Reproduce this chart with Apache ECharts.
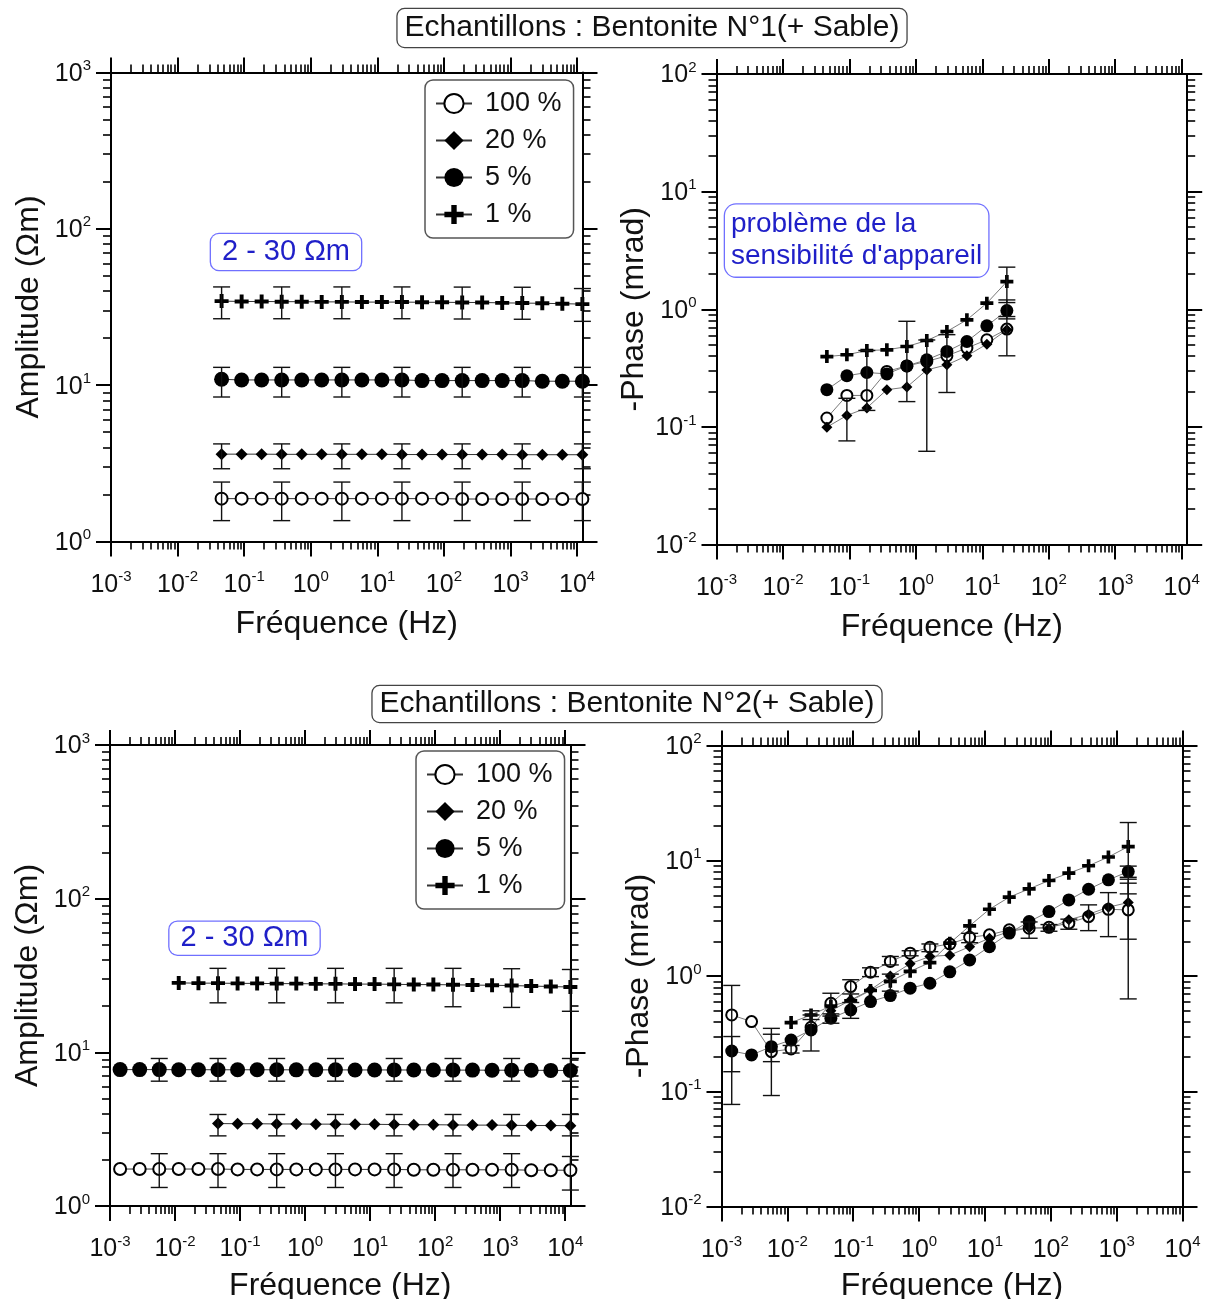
<!DOCTYPE html>
<html><head><meta charset="utf-8">
<script src="https://cdn.jsdelivr.net/npm/echarts@6/dist/echarts.min.js"></script>
<style>html,body{margin:0;padding:0;background:#fff}#c{width:1209px;height:1299px}</style>
</head><body><div id="c"></div>
<script>
// ---------- DATA ----------
const FREQ = [0.00143, 0.00286, 0.00572, 0.0114, 0.0229, 0.0458, 0.0916, 0.183, 0.366, 0.732, 1.46, 2.93, 5.86, 11.7, 23.4, 46.9, 93.8, 188, 375, 750, 1500, 3000, 6000, 12000];
const SERIES_NAMES = ['100 %', '20 %', '5 %', '1 %'];

// Bentonite N°1 - amplitude (Ωm)
const tlAmp100 = [null,null,null,null,null, 1.88,1.88,1.88,1.88,1.88,1.88,1.88,1.88,1.88,1.88,1.88,1.88,1.87,1.87,1.87,1.87,1.87,1.87,1.87];
const tlAmp20  = [null,null,null,null,null, 3.62,3.62,3.62,3.61,3.61,3.61,3.61,3.61,3.61,3.60,3.60,3.60,3.60,3.60,3.60,3.59,3.59,3.59,3.59];
const tlAmp5   = [null,null,null,null,null, 10.9,10.8,10.8,10.8,10.8,10.8,10.8,10.8,10.8,10.8,10.7,10.7,10.7,10.7,10.7,10.7,10.6,10.6,10.6];
const tlAmp1   = [null,null,null,null,null, 34.5,34.3,34.3,34.2,34.2,34.1,34.1,34.0,34.0,34.0,33.9,33.9,33.8,33.8,33.6,33.5,33.4,33.2,33.0];
const tlErrIdx = [5, 8, 11, 14, 17, 20, 23];
const tlErr100Lo = [1.36,1.36,1.36,1.36,1.36,1.36,1.36];
const tlErr100Hi = [2.40,2.40,2.40,2.40,2.40,2.40,2.40];
const tlErr20Lo = [2.92,2.92,2.92,2.92,2.92,2.92,2.92];
const tlErr20Hi = [4.21,4.21,4.21,4.21,4.21,4.21,4.21];
const tlErr5Lo = [8.4,8.4,8.4,8.4,8.4,8.4,8.4];
const tlErr5Hi = [13.0,13.0,13.0,13.0,13.0,13.0,13.0];
const tlErr1Lo = [26.6,26.6,26.6,26.6,26.5,26.4,25.6];
const tlErr1Hi = [42.5,42.5,42.5,42.5,42.4,42.3,41.5];

// Bentonite N°1 - phase (mrad)
const trPh100 = [null,null,null,null,null, 0.119,0.185,0.185,0.296,0.330,0.360,0.402,0.468,0.550,0.678];
const trPh20  = [null,null,null,null,null, 0.0995,0.125,0.145,0.207,0.218,0.305,0.337,0.402,0.505,0.668];
const trPh5   = [null,null,null,null,null, 0.207,0.272,0.290,0.282,0.330,0.372,0.438,0.532,0.723,0.975];
const trPh1   = [null,null,null,null,null, 0.396,0.410,0.446,0.452,0.482,0.542,0.647,0.813,1.127,1.718];
const trErrIdx = [6, 7, 9, 10, 11, 14, 14, 14];
const trErrLo = [0.076, 0.138, 0.164, 0.062, 0.196, 1.14, 0.828, 0.402];
const trErrHi = [0.175, 0.446, 0.79, 0.548, 0.608, 2.28, 1.20, 0.867];

// Bentonite N°2 - amplitude (Ωm)
const blAmp100 = [1.74,1.74,1.74,1.74,1.74,1.74,1.73,1.73,1.73,1.73,1.73,1.73,1.73,1.73,1.73,1.72,1.72,1.72,1.72,1.72,1.72,1.71,1.71,1.71];
const blAmp20  = [null,null,null,null,null, 3.44,3.43,3.43,3.42,3.42,3.41,3.41,3.40,3.40,3.39,3.38,3.38,3.37,3.36,3.36,3.35,3.34,3.34,3.33];
const blAmp5   = [7.72,7.72,7.72,7.71,7.71,7.70,7.70,7.70,7.70,7.69,7.69,7.69,7.68,7.68,7.68,7.67,7.67,7.66,7.66,7.65,7.65,7.64,7.63,7.62];
const blAmp1   = [null,null,null, 28.3,28.2,28.2,28.1,28.1,28.0,28.0,27.9,27.9,27.8,27.8,27.7,27.6,27.6,27.5,27.4,27.3,27.2,27.0,26.8,26.6];
const blErrIdxAll = [2, 5, 8, 11, 14, 17, 20, 23];
const blErr100Lo = [1.32,1.32,1.32,1.32,1.32,1.32,1.32,1.27];
const blErr100Hi = [2.19,2.19,2.19,2.19,2.19,2.19,2.19,2.10];
const blErr5Lo = [6.49,6.49,6.49,6.49,6.49,6.49,6.49,6.49];
const blErr5Hi = [9.12,9.12,9.12,9.12,9.12,9.12,9.12,9.12];
const blErrIdxLate = [5, 8, 11, 14, 17, 20, 23];
const blErr20Lo = [2.86,2.86,2.86,2.86,2.86,2.86,2.86];
const blErr20Hi = [3.94,3.94,3.94,3.94,3.94,3.94,3.94];
const blErr1Lo = [21.0,21.0,21.0,21.0,19.8,19.6,18.5];
const blErr1Hi = [35.2,35.2,35.2,35.2,35.2,35.0,34.6];

// Bentonite N°2 - phase (mrad)
const brPh100 = [0.460,0.403,0.221,0.233,0.36,0.581,0.811,1.08,1.34,1.58,1.78,1.90,2.17,2.28,2.52,2.60,2.65,2.88,3.28,3.80,3.75];
const brPh20  = [null,null,null,null,null, 0.50,0.62,0.76,1.0,1.28,1.48,1.52,1.80,2.13,2.43,2.62,2.60,3.08,3.44,3.96,4.35];
const brPh5   = [0.224,0.207,0.244,0.279,0.341,0.431,0.508,0.601,0.678,0.785,0.867,1.09,1.38,1.80,2.36,2.97,3.63,4.58,5.67,6.84,8.07];
const brPh1   = [null,null,null, 0.395,0.46,0.55,0.61,0.75,0.90,1.10,1.31,1.93,2.73,3.80,4.84,5.71,6.75,7.82,9.06,10.8,13.3];
const brErrIdx = [0,0,2,2,3,4,4,5,5,6,6,7,8,8,9,10,12,15,16,17,18,19,20,20,20,20];
const brErrLo = [0.077,0.148,0.092,0.181,0.215,0.224,0.42,0.45,0.39,0.70,0.43,0.99,1.25,0.74,1.50,1.63,1.95,2.13,2.45,2.55,2.48,2.20,5.17,0.634,2.09,7.2];
const brErrHi = [0.83,0.299,0.352,0.313,0.25,0.46,0.50,0.71,0.47,0.93,0.59,1.18,1.48,1.04,1.66,1.90,2.35,2.95,2.80,3.12,4.15,5.30,21.5,6.93,6.4,9.0];

// ---------- LAYOUT / STYLE ----------
const FONT = '"Liberation Sans", Arial, Helvetica, sans-serif';
const PLUS = 'path://M3.6,0H6.4V3.6H10V6.4H6.4V10H3.6V6.4H0V3.6H3.6Z';
const PANELS = [
  {left:111, top:72.5, width:471.5, height:469, xMax:12050, yMin:1, yMax:1000, yName:'Amplitude (Ωm)', xGap:67, kind:'amp'},
  {left:716.5, top:74, width:470.7, height:470.5, xMax:12100, yMin:0.01, yMax:100, yName:'-Phase (mrad)', xGap:67, kind:'ph'},
  {left:110, top:745, width:460.5, height:461, xMax:12050, yMin:1, yMax:1000, yName:'Amplitude (Ωm)', xGap:64, kind:'amp'},
  {left:721.5, top:745.6, width:461, height:461, xMax:10000, yMin:0.01, yMax:100, yName:'-Phase (mrad)', xGap:64, kind:'ph'}
];
const SYM = {'100 %':'emptyCircle', '20 %':'diamond', '5 %':'circle', '1 %':PLUS};
const SIZE = {
  amp: {'100 %':12, '20 %':12, '5 %':15, '1 %':14},
  ph:  {'100 %':11, '20 %':11, '5 %':13, '1 %':13}
};
const LINE_COLOR = {amp:'#333', ph:'#7a7a7a'};

const RICH = {
  b: {fontFamily: FONT, fontSize: 25, color: '#111', lineHeight: 28, verticalAlign: 'bottom'},
  s: {fontFamily: FONT, fontSize: 15, color: '#111', lineHeight: 15, verticalAlign: 'top'}
};
function powLabel(v) {
  const l = Math.log10(v);
  const e = Math.round(l);
  if (Math.abs(l - e) > 1e-6) return '';
  return '{b|10}{s|' + e + '}';
}
function lg(v) { return Math.log10(v); }

const grid = [], xAxis = [], yAxis = [], series = [];
PANELS.forEach((P, p) => {
  const rect = {left: P.left, top: P.top, width: P.width, height: P.height, containLabel: false, outerBoundsMode: 'none'};
  grid[p] = Object.assign({}, rect);
  grid[4 + p] = Object.assign({}, rect);
  grid[8 + p] = Object.assign({}, rect);
  const frame = {show: true, onZero: false, lineStyle: {color: '#000', width: 2}};
  // data axes (log)
  xAxis[2 * p] = {type: 'log', logBase: 10, gridIndex: p, position: 'bottom', min: 0.001, max: P.xMax,
    axisLine: frame, axisTick: {show: false}, splitLine: {show: false},
    axisLabel: {show: true, formatter: powLabel, margin: 28, rich: RICH, showMinLabel: true, showMaxLabel: true, hideOverlap: false},
    name: 'Fréquence (Hz)', nameLocation: 'middle', nameGap: P.xGap,
    nameTextStyle: {fontFamily: FONT, fontSize: 32, color: '#111'}};
  xAxis[2 * p + 1] = {type: 'log', logBase: 10, gridIndex: p, position: 'top', min: 0.001, max: P.xMax,
    axisLine: frame, axisTick: {show: false}, splitLine: {show: false}, axisLabel: {show: false}};
  yAxis[2 * p] = {type: 'log', logBase: 10, gridIndex: p, position: 'left', min: P.yMin, max: P.yMax,
    axisLine: frame, axisTick: {show: false}, splitLine: {show: false},
    axisLabel: {show: true, formatter: powLabel, margin: 20, rich: RICH, showMinLabel: true, showMaxLabel: true, hideOverlap: false},
    name: P.yName, nameLocation: 'middle', nameGap: 66, nameRotate: 90,
    nameTextStyle: {fontFamily: FONT, fontSize: 32, color: '#111'}};
  yAxis[2 * p + 1] = {type: 'log', logBase: 10, gridIndex: p, position: 'right', min: P.yMin, max: P.yMax,
    axisLine: frame, axisTick: {show: false}, splitLine: {show: false}, axisLabel: {show: false}};

  // decorative tick axes (log-space value axes): majors and minors
  const xmin = -3, xmax = lg(P.xMax), ymin = lg(P.yMin), ymax = lg(P.yMax);
  const majX = [], minX = [], majY = [], minY = [];
  for (let n = Math.floor(xmin); n <= Math.ceil(xmax); n++) {
    if (n >= xmin - 1e-9 && n <= xmax + 1e-9) majX.push(n);
    for (let k = 2; k <= 9; k++) { const v = n + Math.log10(k); if (v > xmin && v < xmax) minX.push(v); }
  }
  for (let n = Math.floor(ymin); n <= Math.ceil(ymax); n++) {
    if (n >= ymin - 1e-9 && n <= ymax + 1e-9) majY.push(n);
    for (let k = 2; k <= 9; k++) { const v = n + Math.log10(k); if (v > ymin && v < ymax) minY.push(v); }
  }
  const deco = (gi, pos, min, max, vals, len, w) => ({
    type: 'value', gridIndex: gi, position: pos, min: min, max: max,
    axisLine: {show: false, onZero: false}, axisLabel: {show: false}, splitLine: {show: false},
    axisTick: {show: true, inside: false, customValues: vals, length: len, lineStyle: {color: '#000', width: w}}
  });
  xAxis[8 + 2 * p] = deco(4 + p, 'bottom', xmin, xmax, majX, 15, 2);
  xAxis[8 + 2 * p + 1] = deco(4 + p, 'top', xmin, xmax, majX, 15, 2);
  yAxis[8 + 2 * p] = deco(4 + p, 'left', ymin, ymax, majY, 15, 2);
  yAxis[8 + 2 * p + 1] = deco(4 + p, 'right', ymin, ymax, majY, 15, 2);
  xAxis[16 + 2 * p] = deco(8 + p, 'bottom', xmin, xmax, minX, 8, 1.6);
  xAxis[16 + 2 * p + 1] = deco(8 + p, 'top', xmin, xmax, minX, 8, 1.6);
  yAxis[16 + 2 * p] = deco(8 + p, 'left', ymin, ymax, minY, 8, 1.6);
  yAxis[16 + 2 * p + 1] = deco(8 + p, 'right', ymin, ymax, minY, 8, 1.6);
});

function pts(vals) {
  const out = [];
  vals.forEach((v, i) => { if (v != null) out.push([FREQ[i], v]); });
  return out;
}
function lineSeries(p, name, vals) {
  const kind = PANELS[p].kind;
  const sym = SYM[name];
  return {
    type: 'line', name: name, xAxisIndex: 2 * p, yAxisIndex: 2 * p, data: pts(vals),
    symbol: sym, symbolSize: SIZE[kind][name], showSymbol: true, showAllSymbol: true, clip: false,
    lineStyle: {color: LINE_COLOR[kind], width: 1},
    itemStyle: {color: '#000', borderColor: '#000', borderWidth: name === '100 %' ? 1.2 : 0},
    emphasis: {disabled: true}, animation: false, z: 2, silent: true
  };
}
function errRows(idx, lo, hi) {
  return idx.map((i, k) => [FREQ[i], lo[k], hi[k]]);
}
function errSeries(p, rows) {
  return {
    type: 'custom', xAxisIndex: 2 * p, yAxisIndex: 2 * p, data: rows, z: 3, silent: true, animation: false, clip: false,
    encode: {x: 0, y: [1, 2]},
    renderItem: (params, api) => {
      const x = api.value(0), lo = api.value(1), hi = api.value(2);
      const a = api.coord([x, hi]), b = api.coord([x, lo]);
      const w = 8.5;
      const st = {stroke: '#111', lineWidth: 1.4, fill: null};
      return {type: 'group', children: [
        {type: 'line', shape: {x1: a[0], y1: a[1], x2: b[0], y2: b[1]}, style: st},
        {type: 'line', shape: {x1: a[0] - w, y1: a[1], x2: a[0] + w, y2: a[1]}, style: st},
        {type: 'line', shape: {x1: b[0] - w, y1: b[1], x2: b[0] + w, y2: b[1]}, style: st}
      ]};
    }
  };
}

series.push(lineSeries(0, '100 %', tlAmp100), lineSeries(0, '20 %', tlAmp20), lineSeries(0, '5 %', tlAmp5), lineSeries(0, '1 %', tlAmp1));
series.push(lineSeries(1, '100 %', trPh100), lineSeries(1, '20 %', trPh20), lineSeries(1, '5 %', trPh5), lineSeries(1, '1 %', trPh1));
series.push(lineSeries(2, '100 %', blAmp100), lineSeries(2, '20 %', blAmp20), lineSeries(2, '5 %', blAmp5), lineSeries(2, '1 %', blAmp1));
series.push(lineSeries(3, '100 %', brPh100), lineSeries(3, '20 %', brPh20), lineSeries(3, '5 %', brPh5), lineSeries(3, '1 %', brPh1));
series.push(errSeries(0, [].concat(
  errRows(tlErrIdx, tlErr100Lo, tlErr100Hi), errRows(tlErrIdx, tlErr20Lo, tlErr20Hi),
  errRows(tlErrIdx, tlErr5Lo, tlErr5Hi), errRows(tlErrIdx, tlErr1Lo, tlErr1Hi))));
series.push(errSeries(1, errRows(trErrIdx, trErrLo, trErrHi)));
series.push(errSeries(2, [].concat(
  errRows(blErrIdxAll, blErr100Lo, blErr100Hi), errRows(blErrIdxAll, blErr5Lo, blErr5Hi),
  errRows(blErrIdxLate, blErr20Lo, blErr20Hi), errRows(blErrIdxLate, blErr1Lo, blErr1Hi))));
series.push(errSeries(3, errRows(brErrIdx, brErrLo, brErrHi)));

const legendBase = {
  data: SERIES_NAMES, orient: 'vertical', itemWidth: 36, itemHeight: 24, itemGap: 10,
  backgroundColor: '#fff', borderColor: '#555', borderWidth: 1.5, borderRadius: 8,
  padding: [10, 12, 10, 10], selectedMode: false,
  textStyle: {fontFamily: FONT, fontSize: 27, color: '#111', padding: [0, 0, 0, 8]}
};

const boxText = (x, y, text, opts) => ({
  type: 'text', x: x, y: y, z: 100,
  style: {text: text, font: opts.font, fill: opts.fill, align: opts.align || 'center', verticalAlign: 'top',
    backgroundColor: '#fff', borderColor: opts.border, borderWidth: opts.bw || 1.3, borderRadius: opts.radius || 6,
    padding: opts.padding, lineHeight: opts.lineHeight}
});

const option = {
  animation: false,
  backgroundColor: '#fff',
  textStyle: {fontFamily: FONT},
  grid: grid, xAxis: xAxis, yAxis: yAxis, series: series,
  legend: [
    Object.assign({}, legendBase, {left: 425, top: 80}),
    Object.assign({}, legendBase, {left: 416, top: 751})
  ],
  graphic: [
    boxText(652, 9, 'Echantillons : Bentonite N°1(+ Sable)', {font: '30px ' + FONT, fill: '#111', border: '#444', padding: [3, 7, 3, 7], radius: 7, lineHeight: 32}),
    boxText(627, 686, 'Echantillons : Bentonite N°2(+ Sable)', {font: '30px ' + FONT, fill: '#111', border: '#444', padding: [2, 7, 2, 7], radius: 7, lineHeight: 32}),
    boxText(286, 234, '2 - 30 Ωm', {font: '29px ' + FONT, fill: '#1f1fc8', border: '#7070ff', padding: [2, 11, 2, 11], radius: 8, lineHeight: 32}),
    boxText(244.5, 921.7, '2 - 30 Ωm', {font: '29px ' + FONT, fill: '#1f1fc8', border: '#7070ff', padding: [1, 11, 1, 11], radius: 8, lineHeight: 31}),
    boxText(725, 204.6, 'problème de la\nsensibilité d\'appareil', {font: '28px ' + FONT, fill: '#1f1fc8', border: '#7070ff', align: 'left', padding: [4, 6, 4, 6], radius: 11, lineHeight: 32})
  ]
};

const chart = echarts.init(document.getElementById('c'), null, {renderer: 'canvas', width: 1209, height: 1299});
chart.setOption(option);
</script>
</body></html>
